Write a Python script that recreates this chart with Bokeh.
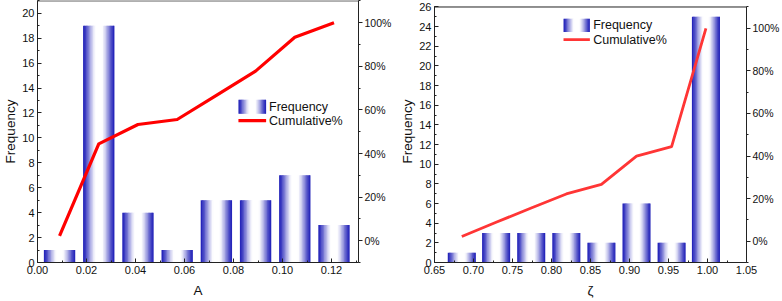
import numpy as np
from bokeh.plotting import figure
from bokeh.models import (Range1d, LinearAxis, FixedTicker, PrintfTickFormatter, Label,
                          ColumnDataSource, Span)
from bokeh.layouts import row
from bokeh.embed import file_html
from bokeh.resources import INLINE

# ---------------- data ----------------
a_centers = [0.009, 0.025, 0.041, 0.057, 0.073, 0.089, 0.105, 0.121]
a_freq = [1, 19, 4, 1, 5, 5, 7, 3]
a_cum_pct = [2.2, 44.4, 53.3, 55.6, 66.7, 77.8, 93.3, 100.0]

z_centers = [0.685, 0.729, 0.774, 0.819, 0.864, 0.909, 0.954, 0.998]
z_freq = [1, 3, 3, 3, 2, 6, 2, 25]
z_cum_pct = [2.2, 8.9, 15.6, 22.2, 26.7, 40.0, 44.4, 100.0]

a_xticks = [0.00, 0.02, 0.04, 0.06, 0.08, 0.10, 0.12]
a_yticks = [0, 2, 4, 6, 8, 10, 12, 14, 16, 18, 20]
z_xticks = [0.65, 0.70, 0.75, 0.80, 0.85, 0.90, 0.95, 1.00, 1.05]
z_yticks = [0, 2, 4, 6, 8, 10, 12, 14, 16, 18, 20, 22, 24, 26]
pct_ticks = [0, 20, 40, 60, 80, 100]
pct_minor = [-10, 10, 30, 50, 70, 90, 110]

# ---------------- style ----------------
FONT = "Liberation Sans"
BLUE = (32, 32, 184)
N_STRIPS = 22
AX = "#222222"


def shade(t):
    w = np.sin(np.pi * t) ** 1.4
    w = min(1.0, 1.08 * w)
    r = int(round(BLUE[0] + (255 - BLUE[0]) * w))
    g = int(round(BLUE[1] + (255 - BLUE[1]) * w))
    b = int(round(BLUE[2] + (255 - BLUE[2]) * w))
    return "#%02x%02x%02x" % (r, g, b)


def gradient_bars(p, centers, heights, width, bottom=0.0):
    lefts, rights, tops, bots, colors = [], [], [], [], []
    sw = width / N_STRIPS
    for c, h in zip(centers, heights):
        x0 = c - width / 2
        for j in range(N_STRIPS):
            t = (j + 0.5) / N_STRIPS
            lefts.append(x0 + j * sw)
            rights.append(min(x0 + (j + 1.5) * sw, x0 + width))
            tops.append(h)
            bots.append(bottom)
            colors.append(shade(t))
    src = ColumnDataSource(dict(left=lefts, right=rights, top=tops, bottom=bots, color=colors))
    p.quad(left="left", right="right", top="top", bottom="bottom", source=src,
           fill_color="color", line_color=None)


def style_axis(ax, size="11px"):
    ax.axis_line_color = AX
    ax.major_tick_line_color = AX
    ax.minor_tick_line_color = AX
    ax.major_label_text_font = FONT
    ax.major_label_text_font_size = size
    ax.major_label_text_color = "#111111"
    ax.axis_label_text_font = FONT
    ax.axis_label_text_font_size = "13.5px"
    ax.axis_label_text_font_style = "normal"
    ax.axis_label_text_color = "#111111"


def make_panel(centers, freq, cum, bar_w, xr, y_max, y_view_top, pct_view_top,
               xticks, xminor, yticks, yminor, xlabel, xfmt, fig_w, b_left, b_right,
               line_color, line_w, leg):
    p = figure(width=fig_w, height=301, title=None,
               x_range=Range1d(*xr), y_range=Range1d(0, y_view_top),
               output_backend="svg", toolbar_location=None,
               min_border_left=b_left, min_border_top=0,
               min_border_right=b_right, min_border_bottom=39)
    p.grid.visible = False
    p.outline_line_color = None
    p.background_fill_color = "white"
    p.border_fill_color = "white"
    p.extra_y_ranges = {"pct": Range1d(-10, pct_view_top)}

    xa = p.xaxis[0]
    xa.ticker = FixedTicker(ticks=xticks, minor_ticks=xminor)
    xa.formatter = PrintfTickFormatter(format=xfmt)
    xa.axis_label = xlabel
    style_axis(xa)
    xa.major_tick_in = 4
    xa.major_tick_out = 0
    xa.minor_tick_in = 2
    xa.minor_tick_out = 0
    xa.major_label_standoff = 3
    xa.axis_label_standoff = 6

    ya = p.yaxis[0]
    ya.ticker = FixedTicker(ticks=yticks, minor_ticks=yminor)
    ya.bounds = (0, y_max)
    ya.axis_label = "Frequency"
    style_axis(ya)
    ya.major_tick_in = 4
    ya.major_tick_out = 0
    ya.minor_tick_in = 2
    ya.minor_tick_out = 0
    ya.major_label_standoff = 3
    ya.axis_label_standoff = 1

    ra = LinearAxis(y_range_name="pct",
                    ticker=FixedTicker(ticks=pct_ticks, minor_ticks=pct_minor),
                    formatter=PrintfTickFormatter(format="%d%%"),
                    bounds=(-10, 110))
    style_axis(ra, "10.5px")
    ra.major_tick_in = 0
    ra.major_tick_out = 4
    ra.minor_tick_in = 0
    ra.minor_tick_out = 2
    ra.major_label_standoff = 2
    p.add_layout(ra, "right")

    # top edge of the frame box
    p.add_layout(Span(location=y_max, dimension="width", line_color=AX, line_width=1))

    gradient_bars(p, centers, freq, bar_w)
    p.line(centers, cum, y_range_name="pct", line_color=line_color, line_width=line_w,
           line_join="round")

    # legend (decoration)
    lx0, lx1, sy0, sy1, ly, tx = leg
    gradient_bars(p, [(lx0 + lx1) / 2], [sy1], lx1 - lx0, bottom=sy0)
    p.line([lx0, lx1], [ly, ly], line_color=line_color, line_width=line_w)
    p.add_layout(Label(x=tx, y=(sy0 + sy1) / 2, text="Frequency", text_baseline="middle",
                       text_font=FONT, text_font_size="12.5px", text_color="#111111"))
    p.add_layout(Label(x=tx, y=ly, text="Cumulative%", text_baseline="middle",
                       text_font=FONT, text_font_size="12.5px", text_color="#111111"))
    return p


# left panel: frame box spans the full plot height (0..21 / -10..110%)
p1 = make_panel(a_centers, a_freq, a_cum_pct, 0.0128, (0, 0.131), 21, 21.03, 110.2,
                a_xticks, [0.01, 0.03, 0.05, 0.07, 0.09, 0.11, 0.13],
                a_yticks, list(range(0, 22)), "A", "%.2f",
                fig_w=394, b_left=37, b_right=33,
                line_color="#ff0000", line_w=3.2,
                leg=(0.0820, 0.0933, 11.94, 13.06, 11.38, 0.0945))

# right panel: frame box starts ~6px below the top (0..26 / -10..110%)
p2 = make_panel(z_centers, z_freq, z_cum_pct, 0.036, (0.65, 1.05), 26, 26.66, 113.05,
                z_xticks, [0.675, 0.725, 0.775, 0.825, 0.875, 0.925, 0.975, 1.025],
                z_yticks, list(range(0, 27)), "\u03b6", "%.2f",
                fig_w=388, b_left=40, b_right=33,
                line_color="#ff3535", line_w=2.8,
                leg=(0.8154, 0.8492, 23.45, 24.8, 22.67, 0.8534))

layout = row(p1, p2, spacing=0)
open("out.html", "w").write(file_html(layout, INLINE))
